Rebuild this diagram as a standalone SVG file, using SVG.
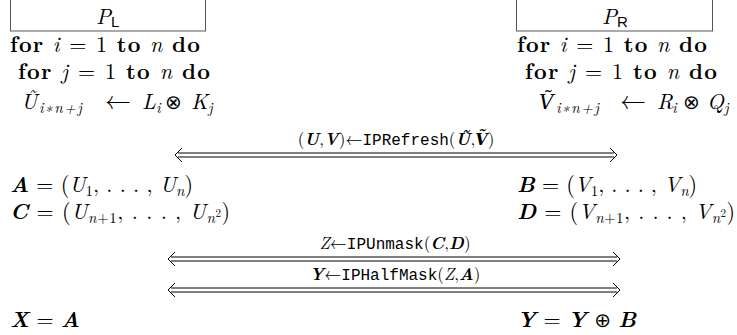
<svg xmlns="http://www.w3.org/2000/svg" width="737" height="335" viewBox="0 0 737 335">
<style>
text{font-family:"Latin Modern Roman","Liberation Serif","DejaVu Serif",serif;font-size:22px;fill:#000}
.b{font-weight:bold}
.i{font-style:italic}
.bi{font-weight:bold;font-style:italic}
.s{font-size:15px}
.sub{font-size:15px;font-style:italic;letter-spacing:1.5px}
.sf{font-family:"Liberation Sans","DejaVu Sans",sans-serif;font-size:15px}
.tt{font-family:"Liberation Mono","DejaVu Sans Mono",monospace;font-size:16px}
.lab{font-size:17px}
.op{font-family:"DejaVu Sans",sans-serif;font-size:20px}
.vt{font-family:"DejaVu Serif",serif}
.box{fill:#fff;stroke:#555;stroke-width:1}
.arr{fill:none;stroke:#000;stroke-width:1}
</style>
<g id="PL">
<rect class="box" x="10.5" y="-1" width="195" height="32"/>
<text x="96" y="24" class="i">P<tspan class="sf" font-style="normal" dy="3">L</tspan></text>
</g>
<g id="PR">
<rect class="box" x="516.5" y="-1" width="196" height="32"/>
<text x="602" y="24" class="i">P<tspan class="sf" font-style="normal" dy="3">R</tspan></text>
</g>
<g id="left-loop">
<text x="10" y="52" textLength="190" lengthAdjust="spacing"><tspan class="b">for</tspan> <tspan class="i">i</tspan> = 1 <tspan class="b">to</tspan> <tspan class="i">n</tspan> <tspan class="b">do</tspan></text>
<text x="18" y="79" textLength="192" lengthAdjust="spacing"><tspan class="b">for</tspan> <tspan class="i">j</tspan> = 1 <tspan class="b">to</tspan> <tspan class="i">n</tspan> <tspan class="b">do</tspan></text>
<text y="109"><tspan x="21" class="i">Ũ</tspan><tspan x="39" class="sub" dy="4">i∗n+j</tspan><tspan x="105" dy="-4" font-size="26px">←</tspan><tspan x="142" class="i">L</tspan><tspan x="156" class="i s" dy="4">i</tspan><tspan x="165" dy="-4" class="op">⊗</tspan><tspan x="191" class="i">K</tspan><tspan x="208" class="i s" dy="4">j</tspan></text>
</g>
<g id="right-loop">
<text x="517" y="52" textLength="190" lengthAdjust="spacing"><tspan class="b">for</tspan> <tspan class="i">i</tspan> = 1 <tspan class="b">to</tspan> <tspan class="i">n</tspan> <tspan class="b">do</tspan></text>
<text x="525" y="79" textLength="192" lengthAdjust="spacing"><tspan class="b">for</tspan> <tspan class="i">j</tspan> = 1 <tspan class="b">to</tspan> <tspan class="i">n</tspan> <tspan class="b">do</tspan></text>
<text y="109"><tspan x="539" class="i vt" font-size="20px">Ṽ</tspan><tspan x="556" class="sub" dy="4">i∗n+j</tspan><tspan x="620" dy="-4" font-size="26px">←</tspan><tspan x="657" class="i">R</tspan><tspan x="672" class="i s" dy="4">i</tspan><tspan x="683" dy="-4" class="op">⊗</tspan><tspan x="707" class="i">Q</tspan><tspan x="724" class="i s" dy="4">j</tspan></text>
</g>
<g id="left-vars">
<text x="10" y="192" textLength="183" lengthAdjust="spacing"><tspan class="bi">A</tspan> = (<tspan class="i">U</tspan><tspan class="s" dy="4">1</tspan><tspan dy="-4">, . . . , </tspan><tspan class="i">U</tspan><tspan class="i s" dy="4">n</tspan><tspan dy="-4">)</tspan></text>
<text x="10" y="219" textLength="220" lengthAdjust="spacing"><tspan class="bi">C</tspan> = (<tspan class="i">U</tspan><tspan class="s" dy="4"><tspan font-style="italic">n</tspan>+1</tspan><tspan dy="-4">, . . . , </tspan><tspan class="i">U</tspan><tspan class="s" dy="4"><tspan font-style="italic">n</tspan></tspan><tspan font-size="11px" dy="-6">2</tspan><tspan dy="2">)</tspan></text>
</g>
<g id="right-vars">
<text x="517" y="192" textLength="180" lengthAdjust="spacing"><tspan class="bi">B</tspan> = (<tspan class="i">V</tspan><tspan class="s" dy="4">1</tspan><tspan dy="-4">, . . . , </tspan><tspan class="i">V</tspan><tspan class="i s" dy="4">n</tspan><tspan dy="-4">)</tspan></text>
<text x="517" y="219" textLength="218" lengthAdjust="spacing"><tspan class="bi">D</tspan> = (<tspan class="i">V</tspan><tspan class="s" dy="4"><tspan font-style="italic">n</tspan>+1</tspan><tspan dy="-4">, . . . , </tspan><tspan class="i">V</tspan><tspan class="s" dy="4"><tspan font-style="italic">n</tspan></tspan><tspan font-size="11px" dy="-6">2</tspan><tspan dy="2">)</tspan></text>
</g>
<g id="left-result">
<text x="10" y="327"><tspan class="bi">X</tspan> = <tspan class="bi">A</tspan></text>
</g>
<g id="right-result">
<text x="517" y="327"><tspan class="bi">Y</tspan> = <tspan class="bi">Y</tspan> <tspan class="op">⊕</tspan> <tspan class="bi">B</tspan></text>
</g>
<g id="connectors">
<g>
<path class="arr" d="M178 153 H614 M178 157 H614 M182 148 L175 155 L182 162 M610 148 L617 155 L610 162"/>
<text x="396" y="145" text-anchor="middle" class="lab">(<tspan class="bi">U</tspan>,<tspan class="bi">V</tspan>)←<tspan class="tt">IPRefresh</tspan>(<tspan class="bi">Ũ</tspan>,<tspan class="bi vt" font-size="16px">Ṽ</tspan>)</text>
</g>
<g>
<path class="arr" d="M171 257 H617 M171 261 H617 M175 252 L168 259 L175 266 M613 252 L620 259 L613 266"/>
<text x="395" y="249" text-anchor="middle" class="lab"><tspan class="i">Z</tspan>←<tspan class="tt">IPUnmask</tspan>(<tspan class="bi">C</tspan>,<tspan class="bi">D</tspan>)</text>
</g>
<g>
<path class="arr" d="M171 288 H617 M171 292 H617 M175 283 L168 290 L175 297 M613 283 L620 290 L613 297"/>
<text x="395" y="280" text-anchor="middle" class="lab"><tspan class="bi">Y</tspan>←<tspan class="tt">IPHalfMask</tspan>(<tspan class="i">Z</tspan>,<tspan class="bi">A</tspan>)</text>
</g>
</g>
</svg>
